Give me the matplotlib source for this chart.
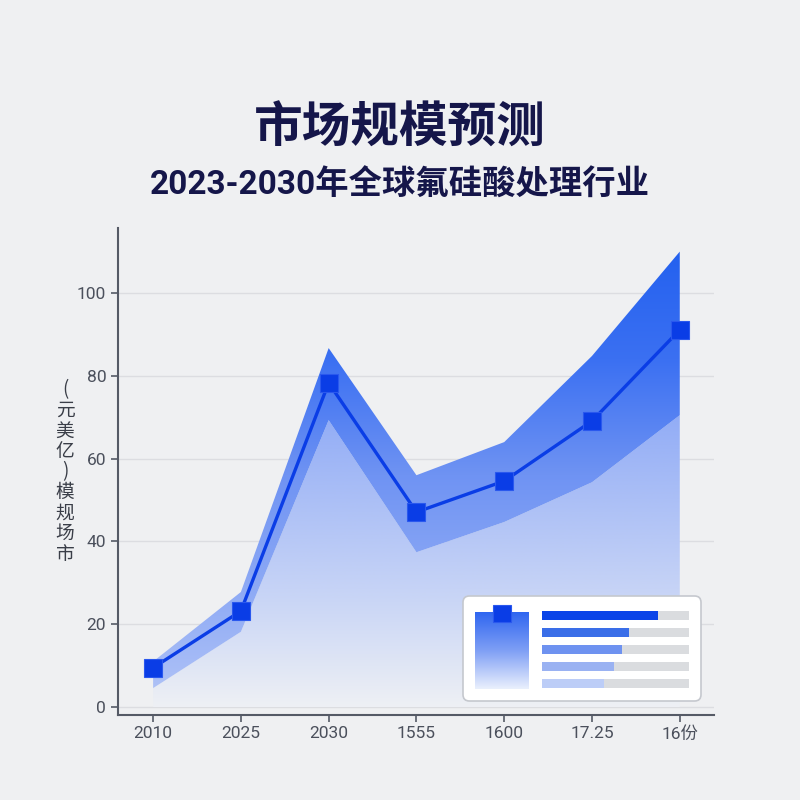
import numpy as np
import matplotlib
matplotlib.use('Agg')
import matplotlib.pyplot as plt
from matplotlib.colors import LinearSegmentedColormap
from matplotlib.patches import Polygon, FancyBboxPatch, Rectangle

plt.rcParams['font.family'] = ['Roboto', 'Noto Sans CJK SC', 'DejaVu Sans']

# Data
categories = ['2010', '2025', '2030', '1555', '1600', '17.25', '16份']
market_size = [9.5, 23.2, 78.3, 47.1, 54.6, 69.1, 91.1]
upper_bound = [11.0, 27.8, 86.7, 56.0, 64.0, 84.8, 110.0]
lower_bound = [4.6, 18.2, 69.3, 37.4, 44.7, 54.3, 70.5]
inset_fill = [0.79, 0.59, 0.545, 0.49, 0.42]

title = '市场规模预测'
subtitle = '2023-2030年全球氟硅酸处理行业'
ylabel_chars = ['市', '场', '规', '模', ')', '亿', '美', '元', '(']

bg = '#eff0f2'
navy = '#15164a'
blue = '#0a3de6'

fig = plt.figure(figsize=(8, 8), dpi=100, facecolor=bg)
ax = fig.add_axes([0.1475, 0.10625, 0.745, 0.60875])
ax.set_facecolor('none')

x = np.arange(len(categories))
ax.set_xlim(-0.4, 6.39)
ax.set_ylim(-1.9, 115.7)

# gridlines
ax.set_yticks([0, 20, 40, 60, 80, 100])
ax.yaxis.grid(True, color='#dcdde1', lw=1)
ax.set_axisbelow(True)

# gradient area below lower bound
low_cmap = LinearSegmentedColormap.from_list(
    'low', [(0, '#eef0f4'), (0.35, '#cad6f6'), (1, '#90abf6')])
verts = list(zip(x, lower_bound)) + [(x[-1], 0), (x[0], 0)]
low_poly = Polygon(verts, closed=True, facecolor='none', edgecolor='none')
ax.add_patch(low_poly)
grad = np.linspace(0, 1, 256).reshape(-1, 1)
im = ax.imshow(grad, origin='lower', extent=[x[0], x[-1], 0, 72], aspect='auto',
               cmap=low_cmap, zorder=2, interpolation='bicubic')
im.set_clip_path(low_poly)

# gradient band between lower and upper bound
band_cmap = LinearSegmentedColormap.from_list(
    'band', ['#b3c5f7', '#8eaaf5', '#6f93f3', '#3b70f2', '#2260ef'])
verts = list(zip(x, upper_bound)) + list(zip(x[::-1], lower_bound[::-1]))
band_poly = Polygon(verts, closed=True, facecolor='none', edgecolor='none')
ax.add_patch(band_poly)
im2 = ax.imshow(grad, origin='lower', extent=[x[0], x[-1], 0, 112], aspect='auto',
                cmap=band_cmap, zorder=3, interpolation='bicubic')
im2.set_clip_path(band_poly)

# forecast line
ax.plot(x, market_size, color=blue, lw=2.4, marker='s', markersize=12.5,
        markerfacecolor=blue, markeredgecolor='#2a58ee', markeredgewidth=0.8, zorder=5)

ax.set_xticks(x)
ax.set_xticklabels(categories)
for s in ['top', 'right']:
    ax.spines[s].set_visible(False)
for s in ['left', 'bottom']:
    ax.spines[s].set_color('#555a66')
    ax.spines[s].set_linewidth(1.5)
ax.tick_params(axis='both', colors='#555a66', labelcolor='#4b505c', labelsize=12.5,
               length=5, width=1.2)
ax.tick_params(axis='x', pad=3)

# y label, upright characters stacked bottom to top (one text block)
ylabel_text = '\n'.join(ylabel_chars[::-1])
fig.text(65 / 800, 1 - 472 / 800, ylabel_text, ha='center', va='center',
         fontsize=13.5, linespacing=0.97, color='#3a3e48',
         family=['Noto Sans CJK SC', 'DejaVu Sans'])

# titles
fig.text(0.5, 1 - 128 / 800, title, ha='center', va='center', fontsize=35,
         fontweight='black', color=navy, family=['Noto Sans CJK SC', 'DejaVu Sans'])
fig.text(0.5, 1 - 186 / 800, subtitle, ha='center', va='center', fontsize=24,
         fontweight='bold', color=navy)

# inset card
card = FancyBboxPatch((463 / 800, 1 - 701 / 800), 238 / 800, 105 / 800,
                      boxstyle='round,pad=0,rounding_size=0.008',
                      transform=fig.transFigure, facecolor='white',
                      edgecolor='#c5c8ce', lw=1.2, zorder=10)
fig.patches.append(card)

gax = fig.add_axes([475 / 800, 1 - 689 / 800, 54 / 800, 77 / 800], zorder=11)
gax.imshow(grad, origin='lower', aspect='auto', extent=[0, 1, 0, 1],
           cmap=LinearSegmentedColormap.from_list('card', ['#eaf0fd', '#7f9ff5', '#2f66f0']))
gax.set_xlim(0, 1)
gax.set_ylim(0, 1.0)
gax.axis('off')
fig.patches.append(Rectangle((493 / 800, 1 - 622 / 800), 18 / 800, 17 / 800,
                             transform=fig.transFigure, facecolor=blue,
                             edgecolor='#2a58ee', lw=0.8, zorder=12))

bax = fig.add_axes([542 / 800, 1 - 692 / 800, 147 / 800, 85 / 800], zorder=11)
bar_colors = ['#0a44e8', '#3a6ee8', '#6e92f0', '#9ab2f2', '#bccdf7']
rows = np.arange(len(inset_fill))
bax.barh(rows, [1] * len(rows), height=0.56, color='#dadcdf')
bax.barh(rows, inset_fill, height=0.56, color=bar_colors)
bax.set_xlim(0, 1)
bax.set_ylim(len(rows) - 0.5, -0.5)
bax.axis('off')

fig.savefig('out.png', dpi=100, facecolor=bg)
